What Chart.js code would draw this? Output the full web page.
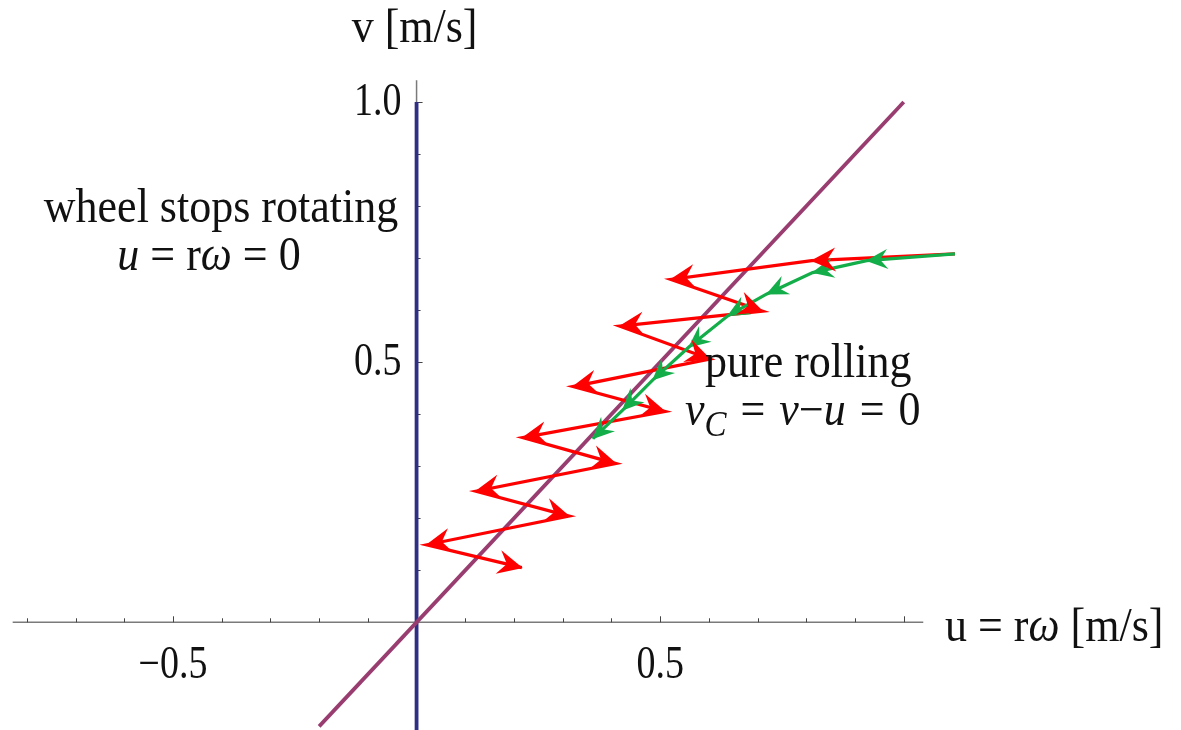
<!DOCTYPE html>
<html>
<head>
<meta charset="utf-8">
<script src="https://cdn.jsdelivr.net/npm/chart.js@4.4.1/dist/chart.umd.min.js"></script>
<style>
  body { margin: 0; background: #fff; }
  #wrap { width: 1181px; height: 730px; }
</style>
</head>
<body>
<div id="wrap"><canvas id="phaseChart" width="1181" height="730"></canvas></div>
<script>
// slipping trajectory (red) and rolling trajectory (green) in the (u, v) plane
const redU = [1.105, 0.811, 0.522, 0.710, 0.417, 0.602, 0.321, 0.510, 0.218, 0.409, 0.122, 0.313, 0.021, 0.216];
const redV = [0.708, 0.695, 0.659, 0.598, 0.569, 0.506, 0.453, 0.405, 0.355, 0.305, 0.252, 0.204, 0.149, 0.105];
const greenU = [1.105, 0.924, 0.813, 0.719, 0.639, 0.559, 0.485, 0.423, 0.362];
const greenV = [0.708, 0.695, 0.672, 0.631, 0.589, 0.529, 0.466, 0.408, 0.353];
// pure rolling line v = u and the line u = 0
const rollU = [-0.2, 1.0];
const rollV = [-0.2, 1.0];
const stopU = [0, 0];
const stopV = [-0.21, 1.0];
// tick labels
const xTickLabels = [-0.5, 0.5];
const yTickLabels = [0.5, 1.0];

const SERIF = '"Liberation Serif", "Times New Roman", serif';

function toPoints(us, vs) {
    return us.map((u, i) => ({ x: u, y: vs[i] }));
}

function fmt(n) {
    return n.toFixed(1).replace('-', '\u2212');
}

// draws a row of text pieces (some italic, some subscript), stretched a bit vertically
function drawRuns(ctx, runs, x, y, align, fs, sy) {
    fs = fs || 44;
    sy = sy || 1.08;
    ctx.save();
    ctx.fillStyle = '#111';
    ctx.textBaseline = 'alphabetic';
    ctx.textAlign = 'left';
    let total = 0;
    runs.forEach(r => {
        ctx.font = (r.it ? 'italic ' : '') + (r.sub ? fs * 0.75 : fs) + 'px ' + SERIF;
        r.w = ctx.measureText(r.t).width + (r.pad || 0);
        total += r.w;
    });
    let cx = 0;
    if (align === 'center') cx = -total / 2;
    if (align === 'right') cx = -total;
    ctx.translate(x, y);
    ctx.scale(1, sy);
    runs.forEach(r => {
        ctx.font = (r.it ? 'italic ' : '') + (r.sub ? fs * 0.75 : fs) + 'px ' + SERIF;
        ctx.fillText(r.t, cx + (r.pad || 0) / 2, r.sub ? 10 : 0);
        cx += r.w;
    });
    ctx.restore();
}

const axesPlugin = {
    id: 'axesPlugin',
    beforeDatasetsDraw(chart) {
        const ctx = chart.ctx;
        const xs = chart.scales.x, ys = chart.scales.y;
        const x0 = xs.getPixelForValue(0), y0 = ys.getPixelForValue(0);
        ctx.save();
        ctx.strokeStyle = '#7a7a7a';
        ctx.lineWidth = 1.5;
        ctx.beginPath();
        ctx.moveTo(xs.getPixelForValue(-0.829), y0);
        ctx.lineTo(xs.getPixelForValue(1.04), y0);
        ctx.moveTo(x0, ys.getPixelForValue(-0.25));
        ctx.lineTo(x0, ys.getPixelForValue(1.042));
        ctx.stroke();
        // small ticks every 0.1
        ctx.strokeStyle = '#444';
        ctx.lineWidth = 1;
        ctx.beginPath();
        for (let k = -8; k <= 10; k++) {
            if (k === 0) continue;
            const px = Math.round(xs.getPixelForValue(k / 10)) + 0.5;
            const len = (k % 5 === 0) ? 6 : 4;
            ctx.moveTo(px, y0);
            ctx.lineTo(px, y0 - len);
        }
        for (let k = 1; k <= 10; k++) {
            const py = Math.round(ys.getPixelForValue(k / 10)) + 0.5;
            const len = (k % 5 === 0) ? 6 : 4;
            ctx.moveTo(x0, py);
            ctx.lineTo(x0 + len, py);
        }
        ctx.stroke();
        ctx.restore();
    },
    afterDatasetsDraw(chart) {
        const ctx = chart.ctx;
        const xs = chart.scales.x, ys = chart.scales.y;
        const x0 = xs.getPixelForValue(0), y0 = ys.getPixelForValue(0);

        // arrowheads on every step of the two trajectories
        chart.data.datasets.forEach((ds, i) => {
            if (!ds.arrow) return;
            const pts = chart.getDatasetMeta(i).data;
            const L = ds.arrow.len, W = ds.arrow.half;
            ctx.save();
            ctx.fillStyle = ds.borderColor;
            for (let k = 1; k < pts.length; k++) {
                const a = pts[k - 1], b = pts[k];
                const ang = Math.atan2(b.y - a.y, b.x - a.x);
                ctx.save();
                ctx.translate(b.x, b.y);
                ctx.rotate(ang);
                ctx.beginPath();
                ctx.moveTo(1, 0);
                ctx.lineTo(-L, -W);
                ctx.lineTo(-L * 0.64, 0);
                ctx.lineTo(-L, W);
                ctx.closePath();
                ctx.fill();
                ctx.restore();
            }
            ctx.restore();
        });

        // tick labels
        yTickLabels.forEach(v => drawRuns(ctx, [{ t: fmt(v) }], x0 - 15, ys.getPixelForValue(v) + 13, 'right', 38, 1.2));
        xTickLabels.forEach(u => drawRuns(ctx, [{ t: fmt(u) }], xs.getPixelForValue(u), y0 + 56, 'center', 38, 1.2));

        drawRuns(ctx, [{ t: 'v [m/s]' }], x0 - 2, 42, 'center');
        drawRuns(ctx, [{ t: 'u = r' }, { t: '\u03c9', it: true }, { t: ' [m/s]' }], 945, 641, 'left');
        drawRuns(ctx, [{ t: 'wheel stops rotating' }], 221, 222, 'center');
        drawRuns(ctx, [{ t: 'u', it: true }, { t: ' = r' }, { t: '\u03c9', it: true }, { t: ' = 0' }], 209, 270, 'center');
        drawRuns(ctx, [{ t: 'pure rolling' }], 705, 377, 'left');
        drawRuns(ctx, [{ t: 'v', it: true }, { t: 'C', it: true, sub: true }, { t: '=', pad: 28 }, { t: 'v', it: true },
            { t: '\u2212' }, { t: 'u', it: true }, { t: '=', pad: 28 }, { t: '0' }], 685, 425, 'left');
    }
};

const ctx = document.getElementById('phaseChart').getContext('2d');
const phaseChart = new Chart(ctx, {
    type: 'scatter',
    data: {
        datasets: [
            {
                label: 'rolling',
                data: toPoints(greenU, greenV),
                showLine: true,
                borderColor: '#13ad4a',
                borderWidth: 3.2,
                pointRadius: 0,
                order: 1,
                arrow: { len: 21, half: 10 }
            },
            {
                label: 'slipping',
                data: toPoints(redU, redV),
                showLine: true,
                borderColor: '#ff0000',
                borderWidth: 3.2,
                pointRadius: 0,
                order: 2,
                arrow: { len: 24, half: 12 }
            },
            {
                label: 'v = u',
                data: toPoints(rollU, rollV),
                showLine: true,
                borderColor: '#993d71',
                borderWidth: 3.8,
                pointRadius: 0,
                order: 3
            },
            {
                label: 'u = 0',
                data: toPoints(stopU, stopV),
                showLine: true,
                borderColor: '#2e2e85',
                borderWidth: 3.8,
                pointRadius: 0,
                order: 4
            }
        ]
    },
    options: {
        responsive: false,
        animation: false,
        devicePixelRatio: 1,
        layout: { padding: 0 },
        plugins: {
            legend: { display: false },
            tooltip: { enabled: false }
        },
        scales: {
            x: { type: 'linear', min: -0.855, max: 1.569, display: false },
            y: { type: 'linear', min: -0.207, max: 1.196, display: false }
        }
    },
    plugins: [axesPlugin]
});
</script>
</body>
</html>
